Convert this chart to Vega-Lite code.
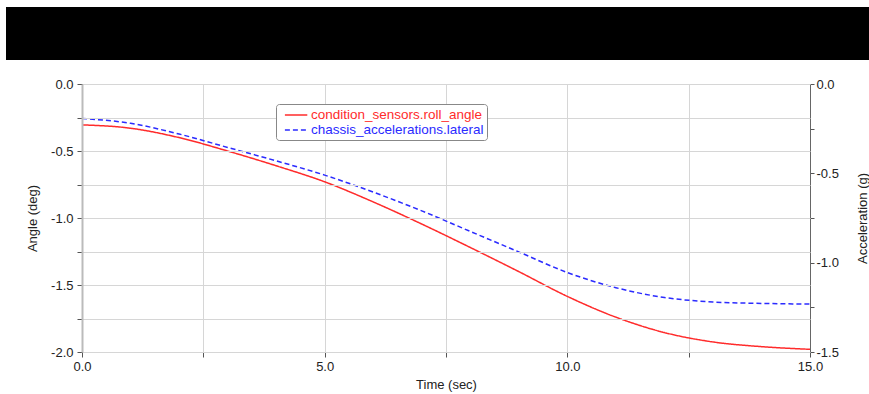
{
  "$schema": "https://vega.github.io/schema/vega-lite/v6.json",
  "padding": {"left": 6, "top": 7, "right": 0, "bottom": 0},
  "background": "white",
  "spacing": 17,
  "config": {
    "font": "Liberation Sans",
    "view": {"stroke": null},
    "axis": {
      "labelFont": "Liberation Sans",
      "labelFontSize": 13,
      "labelColor": "#222",
      "titleFont": "Liberation Sans",
      "titleFontSize": 13,
      "titleFontWeight": "normal",
      "titleColor": "#222",
      "tickColor": "#555",
      "gridColor": "#d6d6d6",
      "labelFlush": false,
      "labelOverlap": false,
      "labelBound": false
    }
  },
  "vconcat": [
    {
      "width": 787,
      "height": 53,
      "view": {"stroke": null},
      "data": {"values": [{"start": 0, "end": 1}]},
      "mark": {"type": "rect", "color": "black", "xOffset": -76},
      "encoding": {
        "x": {"field": "start", "type": "quantitative", "scale": {"domain": [0, 1], "nice": false}, "axis": null},
        "x2": {"field": "end"}
      }
    },
    {
      "width": 728,
      "height": 268,
      "view": {"stroke": "#555"},
      "data": {
        "values": [
          {"series": "condition_sensors.roll_angle", "t": 0, "v": -0.305},
          {"series": "condition_sensors.roll_angle", "t": 1, "v": -0.33},
          {"series": "condition_sensors.roll_angle", "t": 2, "v": -0.4},
          {"series": "condition_sensors.roll_angle", "t": 3, "v": -0.5},
          {"series": "condition_sensors.roll_angle", "t": 4, "v": -0.61},
          {"series": "condition_sensors.roll_angle", "t": 5, "v": -0.73},
          {"series": "condition_sensors.roll_angle", "t": 6, "v": -0.88},
          {"series": "condition_sensors.roll_angle", "t": 7, "v": -1.045},
          {"series": "condition_sensors.roll_angle", "t": 8, "v": -1.22},
          {"series": "condition_sensors.roll_angle", "t": 9, "v": -1.4},
          {"series": "condition_sensors.roll_angle", "t": 10, "v": -1.585},
          {"series": "condition_sensors.roll_angle", "t": 11, "v": -1.74},
          {"series": "condition_sensors.roll_angle", "t": 12, "v": -1.855},
          {"series": "condition_sensors.roll_angle", "t": 13, "v": -1.925},
          {"series": "condition_sensors.roll_angle", "t": 14, "v": -1.96},
          {"series": "condition_sensors.roll_angle", "t": 15, "v": -1.98},
          {"series": "chassis_accelerations.lateral", "t": 0, "v": -0.193},
          {"series": "chassis_accelerations.lateral", "t": 1, "v": -0.22},
          {"series": "chassis_accelerations.lateral", "t": 2, "v": -0.28},
          {"series": "chassis_accelerations.lateral", "t": 3, "v": -0.355},
          {"series": "chassis_accelerations.lateral", "t": 4, "v": -0.43},
          {"series": "chassis_accelerations.lateral", "t": 5, "v": -0.51},
          {"series": "chassis_accelerations.lateral", "t": 6, "v": -0.605},
          {"series": "chassis_accelerations.lateral", "t": 7, "v": -0.71},
          {"series": "chassis_accelerations.lateral", "t": 8, "v": -0.825},
          {"series": "chassis_accelerations.lateral", "t": 9, "v": -0.94},
          {"series": "chassis_accelerations.lateral", "t": 10, "v": -1.055},
          {"series": "chassis_accelerations.lateral", "t": 11, "v": -1.14},
          {"series": "chassis_accelerations.lateral", "t": 12, "v": -1.195},
          {"series": "chassis_accelerations.lateral", "t": 13, "v": -1.22},
          {"series": "chassis_accelerations.lateral", "t": 14, "v": -1.228},
          {"series": "chassis_accelerations.lateral", "t": 15, "v": -1.232}
        ]
      },
      "layer": [
        {
          "transform": [{"filter": "datum.series == 'condition_sensors.roll_angle'"}],
          "mark": {"type": "line", "strokeWidth": 1.5, "interpolate": "monotone"},
          "encoding": {
            "x": {
              "field": "t", "type": "quantitative",
              "scale": {"domain": [0, 15], "nice": false, "zero": false},
              "axis": {
                "title": "Time (sec)",
                "values": [0, 2.5, 5, 7.5, 10, 12.5, 15],
                "labelExpr": "datum.value % 5 == 0 ? format(datum.value, '.1f') : ''",
                "tickSize": 5,
                "labelPadding": 3,
                "titlePadding": 5,
                "domainColor": "#333",
                "grid": true
              }
            },
            "y": {
              "field": "v", "type": "quantitative",
              "scale": {"domain": [-2, 0], "nice": false, "zero": false},
              "axis": {
                "title": "Angle (deg)",
                "orient": "left",
                "values": [-2, -1.75, -1.5, -1.25, -1, -0.75, -0.5, -0.25, 0],
                "labelExpr": "datum.value % 0.5 == 0 ? replace(format(datum.value, '.1f'), '\u2212', '-') : ''",
                "tickSize": 5,
                "labelPadding": 4,
                "titleX": -43,
                "titleY": 134,
                "titleAngle": 270,
                "titleBaseline": "bottom",
                "domainColor": "#bbb",
                "domainWidth": 2,
                "grid": true,
                "zindex": 1
              }
            },
            "color": {
              "field": "series", "type": "nominal",
              "scale": {"domain": ["condition_sensors.roll_angle", "chassis_accelerations.lateral"], "range": ["#ff2b2b", "#2b2bff"]},
              "legend": {
                "title": null, "orient": "none", "legendX": 194, "legendY": 97,
                "padding": 3, "strokeColor": "#888", "fillColor": "white", "cornerRadius": 3,
                "symbolType": "M-0.3,0H2.9", "symbolSize": 196, "symbolStrokeWidth": 1.5,
                "labelFontSize": 13.5, "labelOffset": 16, "rowPadding": 0, "labelLimit": 400,
                "labelColor": {"expr": "datum.value == 'condition_sensors.roll_angle' ? '#ff2b2b' : '#2b2bff'"}
              }
            },
            "strokeDash": {
              "field": "series", "type": "nominal",
              "scale": {"domain": ["condition_sensors.roll_angle", "chassis_accelerations.lateral"], "range": [[1, 0], [5, 3]]},
              "legend": {
                "title": null, "orient": "none", "legendX": 194, "legendY": 97,
                "padding": 3, "strokeColor": "#888", "fillColor": "white", "cornerRadius": 3,
                "symbolType": "M-0.3,0H2.9", "symbolSize": 196, "symbolStrokeWidth": 1.5,
                "labelFontSize": 13.5, "labelOffset": 16, "rowPadding": 0, "labelLimit": 400,
                "labelColor": {"expr": "datum.value == 'condition_sensors.roll_angle' ? '#ff2b2b' : '#2b2bff'"}
              }
            }
          }
        },
        {
          "transform": [{"filter": "datum.series == 'chassis_accelerations.lateral'"}],
          "mark": {"type": "line", "strokeWidth": 1.5, "interpolate": "monotone"},
          "encoding": {
            "x": {"field": "t", "type": "quantitative"},
            "y": {
              "field": "v", "type": "quantitative",
              "scale": {"domain": [-1.5, 0], "nice": false, "zero": false},
              "axis": {
                "title": "Acceleration (g)",
                "orient": "right",
                "values": [-1.5, -1.25, -1, -0.75, -0.5, -0.25, 0],
                "labelExpr": "datum.value % 0.5 == 0 ? replace(format(datum.value, '.1f'), '\u2212', '-') : ''",
                "tickSize": 4,
                "labelPadding": 2,
                "titleX": 46,
                "titleY": 134,
                "titleAngle": 270,
                "titleBaseline": "top",
                "domainColor": "#666",
                "grid": false
              }
            },
            "color": {"field": "series", "type": "nominal"},
            "strokeDash": {"field": "series", "type": "nominal"}
          }
        }
      ],
      "resolve": {"scale": {"y": "independent"}}
    }
  ]
}
